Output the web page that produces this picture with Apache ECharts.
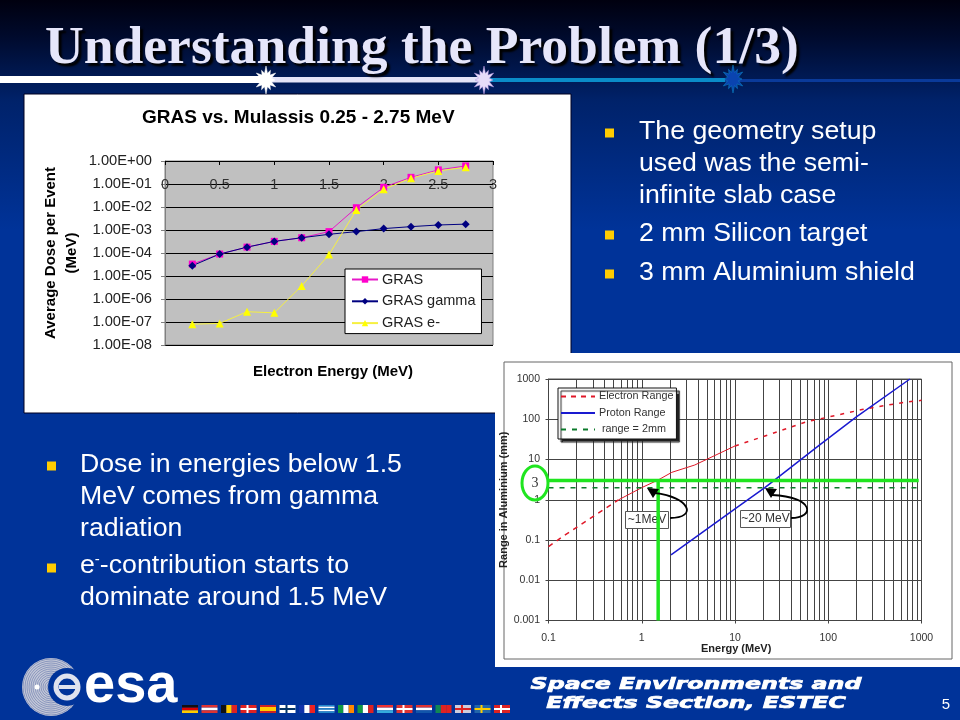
<!DOCTYPE html>
<html>
<head>
<meta charset="utf-8">
<style>html,body{margin:0;padding:0;background:#003399}#c{width:960px;height:720px}</style>
<script src="https://cdn.jsdelivr.net/npm/echarts@6/dist/echarts.min.js"></script>
</head>
<body>
<div id="c"></div>
<script>
// ---- Chart 1 data ----
const doseEnergies = [0.25,0.5,0.75,1,1.25,1.5,1.75,2,2.25,2.5,2.75];
const grasTotal = [3.3e-5,9e-5,1.8e-4,3.2e-4,4.6e-4,8.5e-4,9.3e-3,0.072,0.195,0.41,0.61];
const grasGamma = [2.8e-5,9e-5,1.8e-4,3.2e-4,4.6e-4,6.5e-4,8.5e-4,1.15e-3,1.4e-3,1.65e-3,1.8e-3];
const grasElectron = [8e-8,8.7e-8,2.8e-7,2.5e-7,3.7e-6,8.5e-5,7.4e-3,0.059,0.178,0.37,0.53];
const doseTickLabels = ['1.00E-08','1.00E-07','1.00E-06','1.00E-05','1.00E-04','1.00E-03','1.00E-02','1.00E-01','1.00E+00'];
// ---- Chart 2 data ----
const electronLow = [[0.1,0.0686],[0.151,0.134],[0.291,0.367],[0.562,0.99]];
const electronMid = [[0.562,0.99],[1,2.0],[1.5,3.1],[2.1,4.8],[3.7,7.3],[10,21.7]];
const electronHigh = [[10,21.7],[20,37],[59,87],[105,116],[238,177],[617,258],[1000,295]];
const protonRange = [[2.06,0.0427],[10,0.59],[20.9,2.0],[81,23],[202,116],[752,1000]];
const rangeTwoMm = [[0.1,2],[1000,2]];
const shieldHorizontal = [[0.1,3],[933,3]];
const shieldVertical = [[1.5,3],[1.5,0.001]];
const minorEnergies = [0.2,0.3,0.4,0.5,0.6,0.7,0.8,0.9,2,3,4,5,6,7,8,9,20,30,40,50,60,70,80,90,200,300,400,500,600,700,800,900];
const energyTickLabels = ['0.1','1','10','100','1000'];
const rangeTickLabels = ['0.001','0.01','0.1','1','10','100','1000'];
// ---- Slide text ----
const slideTitle = 'Understanding the Problem (1/3)';
const rightBullets = [['The geometry setup','used was the semi-','infinite slab case'],['2 mm Silicon target'],['3 mm Aluminium shield']];
const leftLinesA = ['Dose in energies below 1.5','MeV comes from gamma','radiation'];
const leftLinesB = ['e{sup|-}-contribution starts to','dominate around 1.5 MeV'];

const SANS = '"Liberation Sans", Arial, sans-serif';
const gfx = [];
const rect = (x,y,w,h,fill,z,extra) => gfx.push({type:'rect',z:z,silent:true,shape:{x,y,width:w,height:h},style:Object.assign({fill},extra||{})});
const text = (x,y,t,o) => gfx.push(Object.assign({type:'text',z:50,silent:true,x,y,style:Object.assign({text:t,fill:'#fff',font:'26.7px '+SANS,textVerticalAlign:'middle'},o||{})},{}));
function star(cx,cy,rOut,rIn,n,fill,stroke){
  const pts=[];
  for(let i=0;i<n*2;i++){
    const r=(i%2?rIn:rOut*(i%4===0?1:0.8)), a=Math.PI*i/n-Math.PI/2;
    pts.push([cx+r*Math.cos(a)*0.8,cy+r*Math.sin(a)]);
  }
  gfx.push({type:'polygon',z:60,silent:true,shape:{points:pts},style:{fill,stroke:stroke||fill,lineWidth:0.5}});
}
// header rule
rect(0,76,265,7,'#ffffff',5);
rect(265,77,220,5.5,'#e4e4f8',5);
rect(485,78,240,4,'#0a8cc8',5);
rect(725,79,235,3,'#0a3a9a',5);
star(266,80,14,7,12,'#ffffff');
star(484,80,14,7,12,'#e6dcf8','#b090e0');
star(733,79,14,7,12,'#0a44b0','#0a8cc8');
// panels
rect(24,94,547,319,'#ffffff',-10,{stroke:'#000020',lineWidth:1});
rect(495,353,465,314,'#ffffff',-9);
rect(504,362,448,297,'#ffffff',-8,{stroke:'#666666',lineWidth:1});
// bullets
const bullet=(x,y)=>rect(x,y-4.5,9,9,'#ffcc00',50);
let ys=[132,234,273];
rightBullets.forEach((lines,i)=>{
  bullet(605,ys[i]+1);
  lines.forEach((l,j)=>text(639,ys[i]+j*32,l));
});
bullet(47,466);
leftLinesA.forEach((l,j)=>text(80,465+j*32,l));
bullet(47,568);
leftLinesB.forEach((l,j)=>text(80,566+j*32,l,{rich:{sup:{font:'15px '+SANS,fill:'#fff',verticalAlign:'top',padding:[0,0,10,0]}}}));
// callouts
rect(625.5,511.5,43,17,'#ffffff',1,{stroke:'#555',lineWidth:1});
gfx.push({type:'text',z:1,silent:true,x:647,y:520,style:{text:'~1MeV',font:'12px '+SANS,fill:'#333',textAlign:'center',textVerticalAlign:'middle'}});
rect(740.5,510.5,50,17,'#ffffff',1,{stroke:'#555',lineWidth:1});
gfx.push({type:'text',z:1,silent:true,x:765.5,y:519,style:{text:'~20 MeV',font:'12px '+SANS,fill:'#333',textAlign:'center',textVerticalAlign:'middle'}});
const curve=(x1,y1,a,b,c,d,x2,y2)=>gfx.push({type:'bezierCurve',z:60,silent:true,shape:{x1,y1,cpx1:a,cpy1:b,cpx2:c,cpy2:d,x2,y2},style:{stroke:'#000',lineWidth:1.8,fill:null}});
const head=(pts)=>gfx.push({type:'polygon',z:60,silent:true,shape:{points:pts},style:{fill:'#000'}});
curve(670,518,698,518,690,497,655,493);
head([[647,488],[659,489],[653,498]]);
curve(791,518,815,518,815,497,772,495);
head([[765,488],[777,489],[771,498]]);
// circled 3
gfx.push({type:'ellipse',z:60,silent:true,shape:{cx:535,cy:483,rx:13,ry:17},style:{fill:null,stroke:'#1fe51f',lineWidth:3}});
text(535,483,'3',{font:'14px "Liberation Serif", serif',fill:'#333',textAlign:'center'});
// ESA logo
gfx.push({type:'circle',z:40,silent:true,shape:{cx:51,cy:687,r:29},style:{fill:'#c4c8d8'}});
for(let r=28;r>3;r-=2){gfx.push({type:'circle',z:41,silent:true,shape:{cx:51,cy:687,r},style:{fill:null,stroke:'#6f7fb0',lineWidth:0.7}});}
gfx.push({type:'circle',z:42,silent:true,shape:{cx:67,cy:687,r:19},style:{fill:'#003399'}});
gfx.push({type:'circle',z:43,silent:true,shape:{cx:37,cy:687,r:2.5},style:{fill:'#ffffff'}});
gfx.push({type:'circle',z:43,silent:true,shape:{cx:67,cy:687,r:11},style:{fill:null,stroke:'#dfe2ee',lineWidth:5}});
rect(59,685,17,4,'#dfe2ee',44);
text(84,687,'esa',{font:'bold 56px '+SANS});
// flags
const V=(...c)=>({d:'v',c}),H=(...c)=>({d:'h',c}),X=(b,x)=>({b,x});
const flags=[H('#111','#d00','#fc0'),H('#d33','#fff','#d33'),V('#111','#fc0','#d22'),X('#d22','#fff'),H('#c22','#fc0','#fc0','#c22'),X('#fff','#036'),V('#13a','#fff','#e22'),H('#28c','#fff','#28c','#fff','#28c'),V('#194','#fff','#f80'),V('#194','#fff','#d22'),H('#e33','#fff','#3ad'),X('#d33','#fff'),H('#d33','#fff','#15a'),V('#185','#d22','#d22'),X('#ccd','#d22'),X('#26a','#fc0'),X('#d22','#fff')];
flags.forEach((f,i)=>{
  const x=182+i*19.5,y=705,w=16,h=8;
  if(f.x){rect(x,y,w,h,f.b,45);rect(x,y+3,w,2,f.x,46);rect(x+6,y,2,h,f.x,46);}
  else f.c.forEach((col,k)=>{
    if(f.d==='h')rect(x,y+k*h/f.c.length,w,h/f.c.length,col,45);
    else rect(x+k*w/f.c.length,y,w/f.c.length,h,col,45);
  });
});
// footer
const foot=(cx,y,t)=>gfx.push({type:'text',z:50,silent:true,x:cx,y,scaleX:1.48,style:{text:t,font:'italic bold 16px "DejaVu Sans", sans-serif',fill:'#fff',stroke:'#fff',lineWidth:0.7,textAlign:'center',textVerticalAlign:'middle'}});
foot(696,685,'Space Environments and');
foot(696,704,'Effects Section, ESTEC');
text(946,705,'5',{font:'15px '+SANS,textAlign:'center'});

const chart = echarts.init(document.getElementById('c'), null, {renderer:'canvas'});
const idx = (v,base) => Math.round(Math.log10(v))+base;
const darkGrid = {show:true,lineStyle:{color:'#444',width:1}};
const black = {show:true,lineStyle:{color:'#000',width:1}};

chart.setOption({
  animation:false,
  backgroundColor:{type:'linear',x:0,y:0,x2:0,y2:1,colorStops:[{offset:0,color:'#00000f'},{offset:0.05,color:'#000a2c'},{offset:0.14,color:'#00226a'},{offset:0.32,color:'#003399'},{offset:1,color:'#003399'}]},
  title:[
    {text:slideTitle,left:40,top:17,textStyle:{fontFamily:'"Liberation Serif", serif',fontWeight:'bold',fontSize:53.6,color:'#e6e6fa',textShadowColor:'#000',textShadowOffsetX:3,textShadowOffsetY:3,textShadowBlur:2}},
    {text:'GRAS vs. Mulassis 0.25 - 2.75 MeV',left:142,top:108,padding:0,textStyle:{fontFamily:SANS,fontWeight:'bold',fontSize:19,color:'#000'}},
    {text:'Electron Energy (MeV)',left:253,top:364,padding:0,textStyle:{fontFamily:SANS,fontWeight:'bold',fontSize:15,color:'#000'}},
    {text:'Energy (MeV)',left:701,top:643,padding:0,textStyle:{fontFamily:SANS,fontWeight:'bold',fontSize:11,color:'#222'}}
  ],
  grid:[
    {left:165,top:161,width:328,height:184,show:true,backgroundColor:'#c0c0c0',borderColor:'#808080',borderWidth:1},
    {left:548.5,top:379,width:373,height:241.5,show:true,backgroundColor:'#ffffff',borderColor:'#555',borderWidth:1}
  ],
  xAxis:[
    {gridIndex:0,type:'value',position:'top',min:0,max:3,interval:0.5,splitLine:{show:false},
     axisLine:{show:true,lineStyle:{color:'#000'}},axisTick:{show:true,inside:true,length:4,lineStyle:{color:'#000'}},
     axisLabel:{inside:true,margin:16,fontFamily:SANS,fontSize:14.5,color:'#333',showMinLabel:true,showMaxLabel:true}},
    {gridIndex:1,type:'log',logBase:10,min:0.1,max:1000,position:'bottom',splitLine:darkGrid,
     axisLine:{show:true,lineStyle:{color:'#444'}},axisTick:{show:true,length:3,lineStyle:{color:'#444'}},minorTick:{show:false},
     axisLabel:{margin:12,fontFamily:SANS,fontSize:10.5,color:'#333',showMinLabel:true,showMaxLabel:true,formatter:v=>energyTickLabels[idx(v,1)]}}
  ],
  yAxis:[
    {gridIndex:0,type:'log',logBase:10,min:1e-8,max:1,splitLine:black,
     name:'Average Dose per Event\n(MeV)',nameLocation:'middle',nameGap:83,nameRotate:90,
     nameTextStyle:{fontFamily:SANS,fontWeight:'bold',fontSize:15,lineHeight:21,color:'#000'},
     axisLine:{show:true,lineStyle:{color:'#808080'}},axisTick:{show:true,length:4,lineStyle:{color:'#808080'}},
     axisLabel:{margin:13,fontFamily:SANS,fontSize:14.7,color:'#222',showMinLabel:true,showMaxLabel:true,formatter:v=>doseTickLabels[idx(v,8)]}},
    {gridIndex:1,type:'log',logBase:10,min:0.001,max:1000,splitLine:darkGrid,
     name:'Range in Aluminium (mm)',nameLocation:'middle',nameGap:21,nameRotate:90,
     nameTextStyle:{fontFamily:SANS,fontWeight:'bold',fontSize:11,color:'#222'},
     axisLine:{show:true,lineStyle:{color:'#444'}},axisTick:{show:true,length:3,lineStyle:{color:'#444'}},
     axisLabel:{margin:8.5,fontFamily:SANS,fontSize:10.5,color:'#333',showMinLabel:true,showMaxLabel:true,formatter:v=>rangeTickLabels[idx(v,3)]}}
  ],
  legend:[
    {z:20,left:345,top:269,orient:'vertical',data:['GRAS','GRAS gamma','GRAS e-'],backgroundColor:'#fff',borderColor:'#000',borderWidth:1,padding:[3,6,3,6],itemWidth:26,itemHeight:8,itemGap:6.8,
     textStyle:{fontFamily:SANS,fontSize:14.5,color:'#222',padding:[0,0,0,-1]}},
    {z:20,left:558,top:388,orient:'vertical',data:['Electron Range','Proton Range',' range = 2mm'],backgroundColor:'#fff',borderColor:'#111',borderWidth:1,shadowColor:'#222',shadowOffsetX:3,shadowOffsetY:3,shadowBlur:1,padding:[3,3,4,2],itemWidth:34,itemHeight:12,itemGap:5.5,itemStyle:{opacity:0},
     textStyle:{fontFamily:SANS,fontSize:10.8,color:'#333',padding:[0,0,0,-1]}}
  ],
  graphic:{elements:gfx},
  series:[
    {name:'GRAS',type:'line',xAxisIndex:0,yAxisIndex:0,data:doseEnergies.map((e,i)=>[e,grasTotal[i]]),symbol:'rect',symbolSize:7,showSymbol:true,lineStyle:{color:'#e619c8',width:1},itemStyle:{color:'#ff00cc'}},
    {name:'GRAS gamma',type:'line',xAxisIndex:0,yAxisIndex:0,data:doseEnergies.map((e,i)=>[e,grasGamma[i]]),symbol:'diamond',symbolSize:8,lineStyle:{color:'#000080',width:1},itemStyle:{color:'#000080'}},
    {name:'GRAS e-',type:'line',xAxisIndex:0,yAxisIndex:0,data:doseEnergies.map((e,i)=>[e,grasElectron[i]]),symbol:'triangle',symbolSize:8,lineStyle:{color:'#f6f040',width:1},itemStyle:{color:'#ffff00'}},
    {name:'minor energy grid',type:'line',xAxisIndex:1,yAxisIndex:1,data:[],z:0,silent:true,
     markLine:{z:0,silent:true,symbol:'none',animation:false,label:{show:false},lineStyle:{color:'#444',width:1,type:'solid'},data:minorEnergies.map(v=>({xAxis:v}))}},
    {name:'Electron Range',type:'line',xAxisIndex:1,yAxisIndex:1,data:electronLow,symbol:'none',lineStyle:{color:'#e01828',width:1.5,type:[5,5]},itemStyle:{color:'#e01828'}},
    {name:'Electron Range mid',type:'line',xAxisIndex:1,yAxisIndex:1,data:electronMid,symbol:'none',lineStyle:{color:'#e01828',width:1},itemStyle:{color:'#e01828'}},
    {name:'Electron Range high',type:'line',xAxisIndex:1,yAxisIndex:1,data:electronHigh,symbol:'none',lineStyle:{color:'#e01828',width:1.5,type:[4,6]},itemStyle:{color:'#e01828'}},
    {name:'Proton Range',type:'line',xAxisIndex:1,yAxisIndex:1,data:protonRange,symbol:'none',lineStyle:{color:'#1a1ad0',width:1.5},itemStyle:{color:'#1a1ad0'}},
    {name:' range = 2mm',type:'line',xAxisIndex:1,yAxisIndex:1,data:rangeTwoMm,symbol:'none',lineStyle:{color:'#0b7a2b',width:1.5,type:[5,6]},itemStyle:{color:'#0b7a2b'}},
    {name:'Shield horizontal',type:'line',xAxisIndex:1,yAxisIndex:1,data:shieldHorizontal,symbol:'none',z:5,lineStyle:{color:'#1fe51f',width:3.5},itemStyle:{color:'#1fe51f'}},
    {name:'Shield vertical',type:'line',xAxisIndex:1,yAxisIndex:1,data:shieldVertical,symbol:'none',z:5,lineStyle:{color:'#1fe51f',width:3.5},itemStyle:{color:'#1fe51f'}}
  ]
});
</script>
</body>
</html>
